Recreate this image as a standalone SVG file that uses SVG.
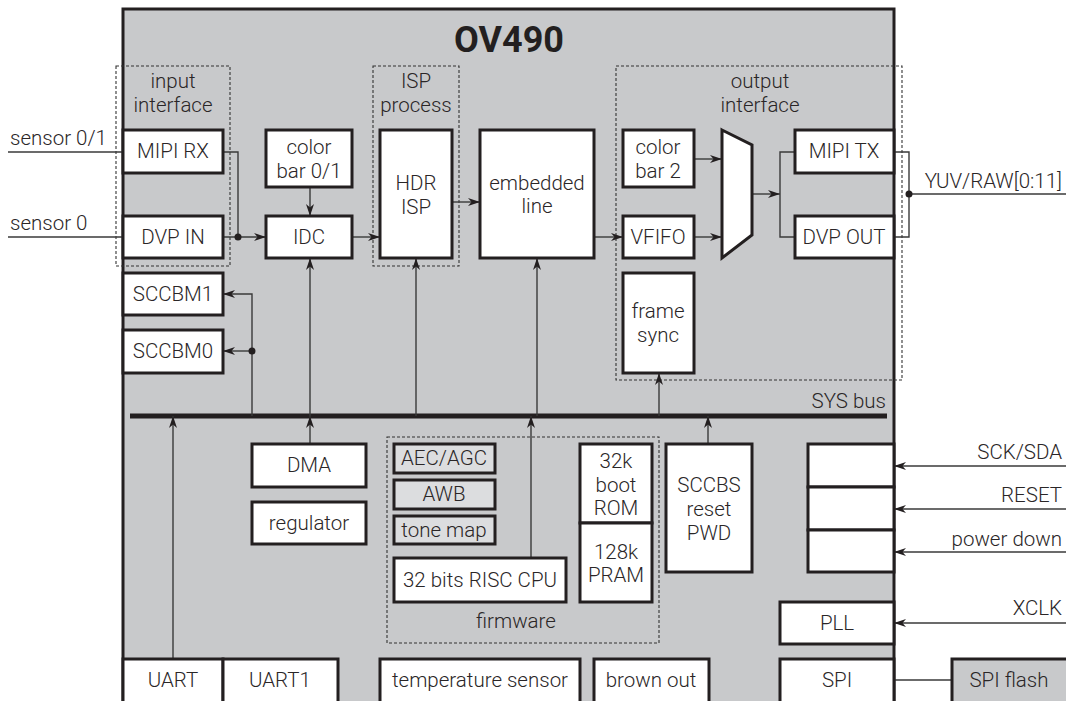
<svg xmlns="http://www.w3.org/2000/svg" width="1066" height="701" viewBox="0 0 1066 701">
<defs>
<style>
text{font-family:Roboto,"Noto Sans","DejaVu Sans",sans-serif;font-weight:300;font-size:20.5px;fill:#2a2627;text-anchor:middle}
.l{text-anchor:start}.r{text-anchor:end}
.t{font-weight:bold;font-size:36px;fill:#231f20}
.b{fill:#fff;stroke:#231f20;stroke-width:3}
.g{fill:#dcdddf;stroke:#231f20;stroke-width:3}
.d{fill:none;stroke:#333;stroke-width:1.1;stroke-dasharray:3 2}
.c{fill:none;stroke:#3a3a3a;stroke-width:1.4}
</style>
<marker id="a" viewBox="0 0 12 8" refX="12" refY="4" markerWidth="12" markerHeight="8" orient="auto" markerUnits="userSpaceOnUse"><path d="M0,0 L12,4 L0,8 L3.5,4 z" fill="#231f20"/></marker>
</defs>
<rect width="1066" height="701" fill="#fff"/>
<g id="chip">
<rect x="123" y="9" width="771" height="700" fill="#c8c9cb" stroke="#231f20" stroke-width="3"/>
<text class="t" x="509" y="52">OV490</text>
</g>
<g id="groups">
<rect class="d" x="116" y="66" width="114" height="200"/>
<text x="173" y="88">input</text><text x="173" y="112">interface</text>
<rect class="d" x="373" y="66" width="86" height="200"/>
<text x="416" y="88">ISP</text><text x="416" y="112">process</text>
<rect class="d" x="616" y="66" width="286" height="314"/>
<text x="760" y="88">output</text><text x="760" y="112">interface</text>
<rect class="d" x="387" y="437" width="272" height="206"/>
<text x="516" y="628">firmware</text>
</g>
<g id="connectors">
<path class="c" d="M8,152 H123"/>
<path class="c" d="M8,237 H123"/>
<path class="c" d="M223,152 H238 V237"/>
<path class="c" d="M223,237 H266" marker-end="url(#a)"/>
<circle cx="238" cy="237" r="3.5" fill="#231f20"/>
<path class="c" d="M310,187 V216" marker-end="url(#a)"/>
<path class="c" d="M352,237 H380" marker-end="url(#a)"/>
<path class="c" d="M452,202 H480" marker-end="url(#a)"/>
<path class="c" d="M594,237 H623" marker-end="url(#a)"/>
<path class="c" d="M694,159 H722" marker-end="url(#a)"/>
<path class="c" d="M694,237 H722" marker-end="url(#a)"/>
<path class="c" d="M752,194 H780" marker-end="url(#a)"/>
<path class="c" d="M795,152 H780 V237 H795"/>
<path class="c" d="M894,152 H909 V237 H894"/>
<path class="c" d="M909,194 H1066"/>
<circle cx="909" cy="194" r="3.5" fill="#231f20"/>
<path d="M130,416 H887" stroke="#231f20" stroke-width="5"/>
<path class="c" d="M252,416 V294 H223" marker-end="url(#a)"/>
<path class="c" d="M252,351 H223" marker-end="url(#a)"/>
<circle cx="252" cy="351" r="3.5" fill="#231f20"/>
<path class="c" d="M310,416 V258" marker-end="url(#a)"/>
<path class="c" d="M310,444 V416" marker-end="url(#a)"/>
<path class="c" d="M416,416 V258" marker-end="url(#a)"/>
<path class="c" d="M537,416 V258" marker-end="url(#a)"/>
<path class="c" d="M531,558 V416" marker-end="url(#a)"/>
<path class="c" d="M659,416 V373" marker-end="url(#a)"/>
<path class="c" d="M708,444 V416" marker-end="url(#a)"/>
<path class="c" d="M173,659 V416" marker-end="url(#a)"/>
<path class="c" d="M1066,466 H894" marker-end="url(#a)"/>
<path class="c" d="M1066,509 H894" marker-end="url(#a)"/>
<path class="c" d="M1066,552 H894" marker-end="url(#a)"/>
<path class="c" d="M1066,623 H894" marker-end="url(#a)"/>
<path class="c" d="M894,680 H952"/>
</g>
<g id="labels">
<text class="l" x="10" y="145">sensor 0/1</text>
<text class="l" x="10" y="230">sensor 0</text>
<text class="r" x="1062" y="188">YUV/RAW[0:11]</text>
<text class="r" x="886" y="408">SYS bus</text>
<text class="r" x="1062" y="459">SCK/SDA</text>
<text class="r" x="1062" y="502">RESET</text>
<text class="r" x="1062" y="546">power down</text>
<text class="r" x="1062" y="615">XCLK</text>
</g>
<g id="mipi-rx"><rect class="b" x="123" y="130" width="100" height="43"/><text x="173" y="158">MIPI RX</text></g>
<g id="dvp-in"><rect class="b" x="123" y="216" width="100" height="42"/><text x="173" y="244">DVP IN</text></g>
<g id="color-bar-01"><rect class="b" x="266" y="130" width="86" height="57"/><text x="309" y="154">color</text><text x="309" y="178">bar 0/1</text></g>
<g id="idc"><rect class="b" x="266" y="216" width="86" height="42"/><text x="309" y="244">IDC</text></g>
<g id="hdr-isp"><rect class="b" x="380" y="130" width="72" height="128"/><text x="416" y="190">HDR</text><text x="416" y="214">ISP</text></g>
<g id="embedded-line"><rect class="b" x="480" y="130" width="114" height="128"/><text x="537" y="190">embedded</text><text x="537" y="213">line</text></g>
<g id="color-bar-2"><rect class="b" x="623" y="130" width="71" height="57"/><text x="658" y="154">color</text><text x="658" y="178">bar 2</text></g>
<g id="vfifo"><rect class="b" x="623" y="216" width="71" height="42"/><text x="658" y="244">VFIFO</text></g>
<g id="mux"><path class="b" d="M722,130 L752,145 V235 L722,258 Z"/></g>
<g id="mipi-tx"><rect class="b" x="795" y="130" width="99" height="43"/><text x="844" y="158">MIPI TX</text></g>
<g id="dvp-out"><rect class="b" x="795" y="216" width="99" height="42"/><text x="844" y="244">DVP OUT</text></g>
<g id="frame-sync"><rect class="b" x="623" y="273" width="71" height="100"/><text x="658" y="318">frame</text><text x="658" y="342">sync</text></g>
<g id="sccbm1"><rect class="b" x="123" y="273" width="100" height="42"/><text x="173" y="301">SCCBM1</text></g>
<g id="sccbm0"><rect class="b" x="123" y="330" width="100" height="43"/><text x="173" y="358">SCCBM0</text></g>
<g id="dma"><rect class="b" x="252" y="444" width="114" height="43"/><text x="309" y="472">DMA</text></g>
<g id="regulator"><rect class="b" x="252" y="502" width="114" height="42"/><text x="309" y="530">regulator</text></g>
<g id="aec-agc"><rect class="g" x="394" y="444" width="101" height="29"/><text x="444" y="465">AEC/AGC</text></g>
<g id="awb"><rect class="g" x="394" y="480" width="101" height="29"/><text x="444" y="501">AWB</text></g>
<g id="tone-map"><rect class="g" x="394" y="516" width="101" height="28"/><text x="444" y="537">tone map</text></g>
<g id="cpu"><rect class="b" x="394" y="558" width="172" height="44"/><text x="480" y="587">32 bits RISC CPU</text></g>
<g id="boot-rom"><rect class="b" x="580" y="444" width="72" height="79"/><text x="616" y="468">32k</text><text x="616" y="492">boot</text><text x="616" y="515">ROM</text></g>
<g id="pram"><rect class="b" x="580" y="523" width="72" height="79"/><text x="616" y="559">128k</text><text x="616" y="582">PRAM</text></g>
<g id="sccbs"><rect class="b" x="666" y="444" width="86" height="128"/><text x="709" y="492">SCCBS</text><text x="709" y="516">reset</text><text x="709" y="540">PWD</text></g>
<g id="pin-sck"><rect class="b" x="808" y="444" width="86" height="43"/></g>
<g id="pin-reset"><rect class="b" x="808" y="487" width="86" height="43"/></g>
<g id="pin-pwd"><rect class="b" x="808" y="530" width="86" height="42"/></g>
<g id="pll"><rect class="b" x="780" y="602" width="114" height="42"/><text x="837" y="630">PLL</text></g>
<g id="spi"><rect class="b" x="780" y="659" width="114" height="50"/><text x="837" y="687">SPI</text></g>
<g id="spi-flash"><rect x="952" y="659" width="120" height="50" fill="#c8c9cb" stroke="#231f20" stroke-width="3"/><text x="1009" y="687">SPI flash</text></g>
<g id="uart"><rect class="b" x="123" y="659" width="100" height="50"/><text x="173" y="687">UART</text></g>
<g id="uart1"><rect class="b" x="223" y="659" width="115" height="50"/><text x="280" y="687">UART1</text></g>
<g id="temp-sensor"><rect class="b" x="380" y="659" width="200" height="50"/><text x="480" y="687">temperature sensor</text></g>
<g id="brown-out"><rect class="b" x="594" y="659" width="115" height="50"/><text x="651" y="687">brown out</text></g>
</svg>
